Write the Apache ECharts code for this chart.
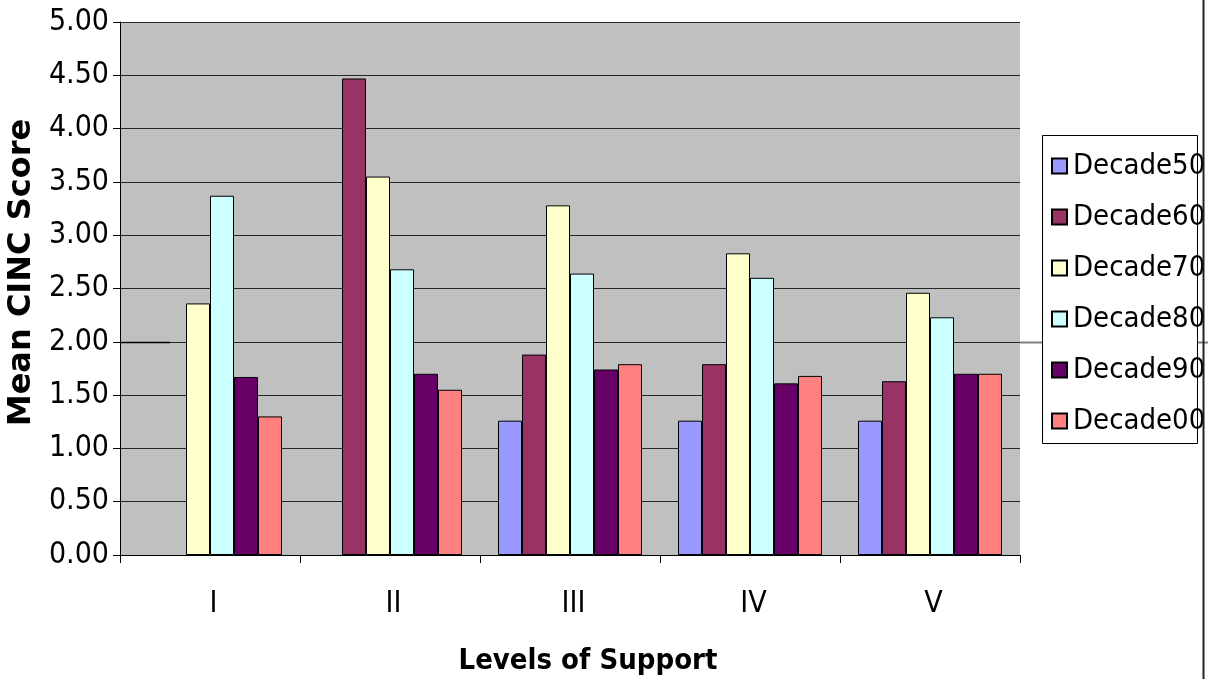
<!DOCTYPE html>
<html>
<head>
<meta charset="utf-8">
<script src="https://cdn.jsdelivr.net/npm/echarts@6/dist/echarts.min.js"></script>
<style>
  html, body { margin: 0; padding: 0; background: #fff; }
  #chart { width: 1208px; height: 679px; }
</style>
</head>
<body>
<div id="chart"></div>
<script>
// Levels of support and mean CINC score per decade
const categories = ['I', 'II', 'III', 'IV', 'V'];
const decade50 = [null, null, 1.26, 1.26, 1.26];
const decade60 = [null, 4.47, 1.88, 1.79, 1.63];
const decade70 = [2.36, 3.55, 3.28, 2.83, 2.46];
const decade80 = [3.37, 2.68, 2.64, 2.60, 2.23];
const decade90 = [1.67, 1.70, 1.74, 1.61, 1.70];
const decade00 = [1.30, 1.55, 1.79, 1.68, 1.70];
const seriesNames = ['Decade50', 'Decade60', 'Decade70', 'Decade80', 'Decade90', 'Decade00'];
const seriesData = [decade50, decade60, decade70, decade80, decade90, decade00];
const seriesColors = ['#9999ff', '#993366', '#ffffcc', '#ccffff', '#660066', '#ff8080'];
const yTicks = { min: 0, max: 5, step: 0.5 };

const FONT = '"DejaVu Sans Condensed", "DejaVu Sans", sans-serif';

const chart = echarts.init(document.getElementById('chart'), null, { renderer: 'canvas' });

const option = {
  animation: false,
  backgroundColor: '#ffffff',
  grid: {
    left: 120, right: 188, top: 22, bottom: 124,
    outerBoundsMode: 'none',
    containLabel: false,
    show: true, backgroundColor: '#c0c0c0', borderWidth: 0
  },
  legend: {
    orient: 'vertical',
    left: 1051, top: 151,
    padding: 0,
    itemWidth: 15, itemHeight: 15, itemGap: 21,
    icon: 'rect',
    textStyle: { fontFamily: FONT, fontSize: 29, color: '#000', lineHeight: 30, padding: [0, 0, 0, 1] },
    data: seriesNames
  },
  xAxis: {
    type: 'category',
    data: categories,
    axisLine: { show: true, lineStyle: { color: '#000', width: 1 } },
    axisTick: { show: true, length: 8, lineStyle: { color: '#000' } },
    axisLabel: { fontFamily: FONT, fontSize: 30, color: '#000', margin: 34, padding: [0, 0, 0, 7] },
    name: 'Levels of Support',
    nameLocation: 'middle',
    nameGap: 92,
    nameTextStyle: { fontFamily: FONT, fontWeight: 'bold', fontSize: 29, color: '#000', padding: [0, 0, 0, 36] }
  },
  yAxis: {
    type: 'value',
    min: yTicks.min, max: yTicks.max, interval: yTicks.step,
    axisLine: { show: true, lineStyle: { color: '#000', width: 1 } },
    axisTick: { show: true, length: 7, lineStyle: { color: '#000' } },
    axisLabel: {
      fontFamily: FONT, fontSize: 30, color: '#000', margin: 11,
      formatter: v => v.toFixed(2)
    },
    splitLine: { show: true, lineStyle: { color: '#262626', width: 1 } },
    name: 'Mean CINC Score',
    nameLocation: 'middle',
    nameGap: 78,
    nameRotate: 90,
    nameTextStyle: { fontFamily: '"DejaVu Sans", sans-serif', fontWeight: 'bold', fontSize: 32, color: '#000', padding: [0, 0, 0, 32] }
  },
  series: seriesNames.map((name, i) => ({
    name,
    type: 'bar',
    data: seriesData[i],
    barGap: '0%',
    barCategoryGap: '20%',
    itemStyle: { color: seriesColors[i], borderColor: '#000', borderWidth: 1 }
  }))
};

chart.setOption(option);

// Legend frame plus the reference line at 2.00 and the page edge rule
const y2 = Math.round(chart.convertToPixel({ yAxisIndex: 0 }, 2)) + 0.5;
const gridLeft = chart.convertToPixel({ xAxisIndex: 0 }, 0) - 90;
const gridRight = chart.getWidth() - 188;
chart.setOption({
  graphic: [
    { type: 'line', z: 0, shape: { x1: gridRight, y1: y2, x2: 1208, y2: y2 }, style: { stroke: '#808080', lineWidth: 2 } },
    { type: 'line', z: 5, shape: { x1: gridLeft, y1: y2, x2: gridLeft + 50, y2: y2 }, style: { stroke: '#000', lineWidth: 1.5 } },
    { type: 'rect', z: 1, shape: { x: 1042.5, y: 135.5, width: 155, height: 308 }, style: { fill: '#fff', stroke: '#000', lineWidth: 1 } },
    { type: 'line', z: 5, shape: { x1: 1203.5, y1: 0, x2: 1203.5, y2: 679 }, style: { stroke: '#222', lineWidth: 2 } }
  ]
});
</script>
</body>
</html>
